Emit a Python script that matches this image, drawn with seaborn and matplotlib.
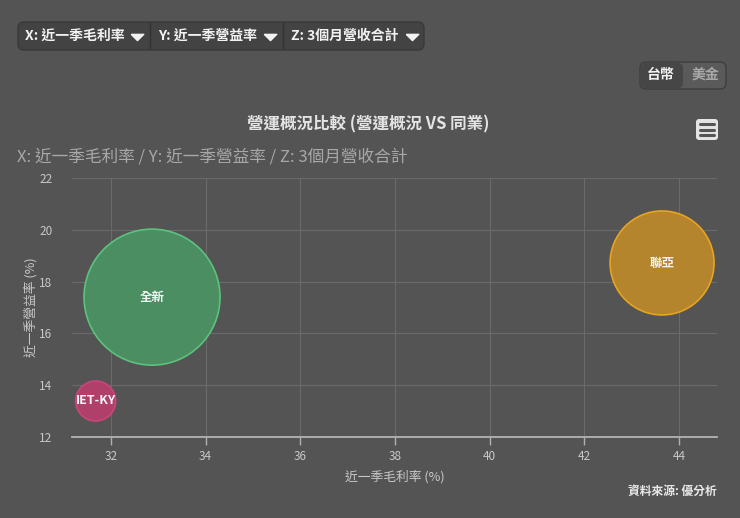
import matplotlib
matplotlib.use("Agg")
import matplotlib.pyplot as plt
from matplotlib.patches import FancyBboxPatch
from matplotlib.lines import Line2D
from matplotlib.transforms import IdentityTransform
import pandas as pd
import seaborn as sns

# data
companies = ["全新", "聯亞", "IET-KY"]
gross_margin = [32.87, 43.64, 31.68]   # X: 近一季毛利率 (%)
op_margin = [17.40, 18.72, 13.39]      # Y: 近一季營益率 (%)
revenue_3m = [46.2, 27.0, 4.0]         # Z: 3個月營收合計 (relative)
fill_colors = ["#4b8e62", "#b5852d", "#b0406a"]
edge_colors = ["#5cc27d", "#e6a420", "#c9457b"]

x_ticks = [32, 34, 36, 38, 40, 42, 44]
y_ticks = [12, 14, 16, 18, 20, 22]

BG = "#545454"
W, H = 740, 518

sns.set_theme(style="darkgrid", rc={
    "figure.facecolor": BG, "axes.facecolor": BG, "savefig.facecolor": BG,
    "grid.color": "#6a6a6a", "grid.linewidth": 0.8,
})
plt.rcParams["font.family"] = ["Noto Sans CJK TC", "DejaVu Sans"]

df = pd.DataFrame({"company": companies, "x": gross_margin,
                   "y": op_margin, "z": revenue_3m})

fig = plt.figure(figsize=(W / 100, H / 100), dpi=100)
ax = fig.add_axes([72 / W, 1 - 437 / H, (717 - 72) / W, (437 - 178) / H])

smax = (1.44 * 68) ** 2
sns.scatterplot(data=df, x="x", y="y", hue="company", palette=fill_colors,
                size="z", sizes=(0, smax), size_norm=(0, max(revenue_3m)),
                legend=False, ax=ax, linewidth=1.2, alpha=1, zorder=3)
ax.collections[0].set_edgecolors(edge_colors)

for name, xv, yv in zip(companies, gross_margin, op_margin):
    ax.text(xv, yv, name, ha="center", va="center", color="#f4f4f4",
            fontsize=9, fontweight="bold", zorder=4)

ax.set_xlim(31.18, 44.8)
ax.set_ylim(12, 22)
ax.set_xticks(x_ticks)
ax.set_yticks(y_ticks)
ax.tick_params(axis="x", colors="#c8c8c8", labelsize=8.5, length=6,
               width=1, color="#b0b0b0", bottom=True, pad=3)
ax.tick_params(axis="y", colors="#c8c8c8", labelsize=8.5, length=0, pad=14)
for side in ["top", "right", "left"]:
    ax.spines[side].set_visible(False)
ax.spines["bottom"].set_visible(True)
ax.spines["bottom"].set_color("#b4b4b4")
ax.spines["bottom"].set_linewidth(1.3)
ax.grid(True, zorder=0)
ax.set_xlabel("近一季毛利率 (%)", color="#c8c8c8", fontsize=9.2, labelpad=5)
ax.set_ylabel("近一季營益率 (%)", color="#c8c8c8", fontsize=9.2, labelpad=1)


def px(x, y):
    return x / W, 1 - y / H


# title and subtitle
fig.text(*px(368, 124), "營運概況比較 (營運概況 VS 同業)", ha="center", va="center",
         color="#e4e4e4", fontsize=11.9, fontweight="bold")
fig.text(*px(17, 157), "X: 近一季毛利率 / Y: 近一季營益率 / Z: 3個月營收合計",
         ha="left", va="center", color="#a8a8a8", fontsize=12)
fig.text(*px(717, 491), "資料來源: 優分析", ha="right", va="center",
         color="#e8e8e8", fontsize=8.5, fontweight="bold")

# dropdown selector bar
ident = IdentityTransform()
fig.patches.append(FancyBboxPatch((18, H - 50), 406, 28,
                                  boxstyle="round,pad=0,rounding_size=6",
                                  fc="#434343", ec="#393939", lw=1,
                                  transform=ident, figure=fig))
for sx in [150, 283]:
    fig.lines.append(Line2D([sx, sx], [H - 49, H - 23], color="#333333",
                            lw=1, transform=ident, figure=fig))
flat_tri = [(-1, 0.5), (1, 0.5), (0, -0.5), (-1, 0.5)]
for tx, label, tri_x in [(25, "X: 近一季毛利率", 137),
                         (158, "Y: 近一季營益率", 270),
                         (291, "Z: 3個月營收合計", 412)]:
    fig.text(*px(tx, 36), label, ha="left", va="center", color="#f2f2f2",
             fontsize=10, fontweight="bold")
    fig.lines.append(Line2D([tri_x], [H - 37], marker=flat_tri, markersize=9,
                            color="#f2f2f2", lw=0, transform=ident, figure=fig))

# currency toggle
fig.patches.append(FancyBboxPatch((640, H - 89), 86, 27,
                                  boxstyle="round,pad=0,rounding_size=6",
                                  fc="#5a5a5a", ec="#3e3e3e", lw=1,
                                  transform=ident, figure=fig))
fig.patches.append(FancyBboxPatch((641, H - 88), 42, 25,
                                  boxstyle="round,pad=0,rounding_size=5",
                                  fc="#464646", ec="none",
                                  transform=ident, figure=fig))
fig.text(*px(661, 75), "台幣", ha="center", va="center", color="#f2f2f2",
         fontsize=10, fontweight="bold")
fig.text(*px(705, 75), "美金", ha="center", va="center", color="#a8a8a8",
         fontsize=10, fontweight="bold")

# menu icon
fig.patches.append(FancyBboxPatch((696, H - 140), 22, 21,
                                  boxstyle="round,pad=0,rounding_size=3",
                                  fc="#e4e4e4", ec="none",
                                  transform=ident, figure=fig))
for ly in [124, 129.5, 135]:
    fig.lines.append(Line2D([700, 714], [H - ly, H - ly], color="#555555",
                            lw=2.2, transform=ident, figure=fig))

fig.savefig("out.png", dpi=100)
